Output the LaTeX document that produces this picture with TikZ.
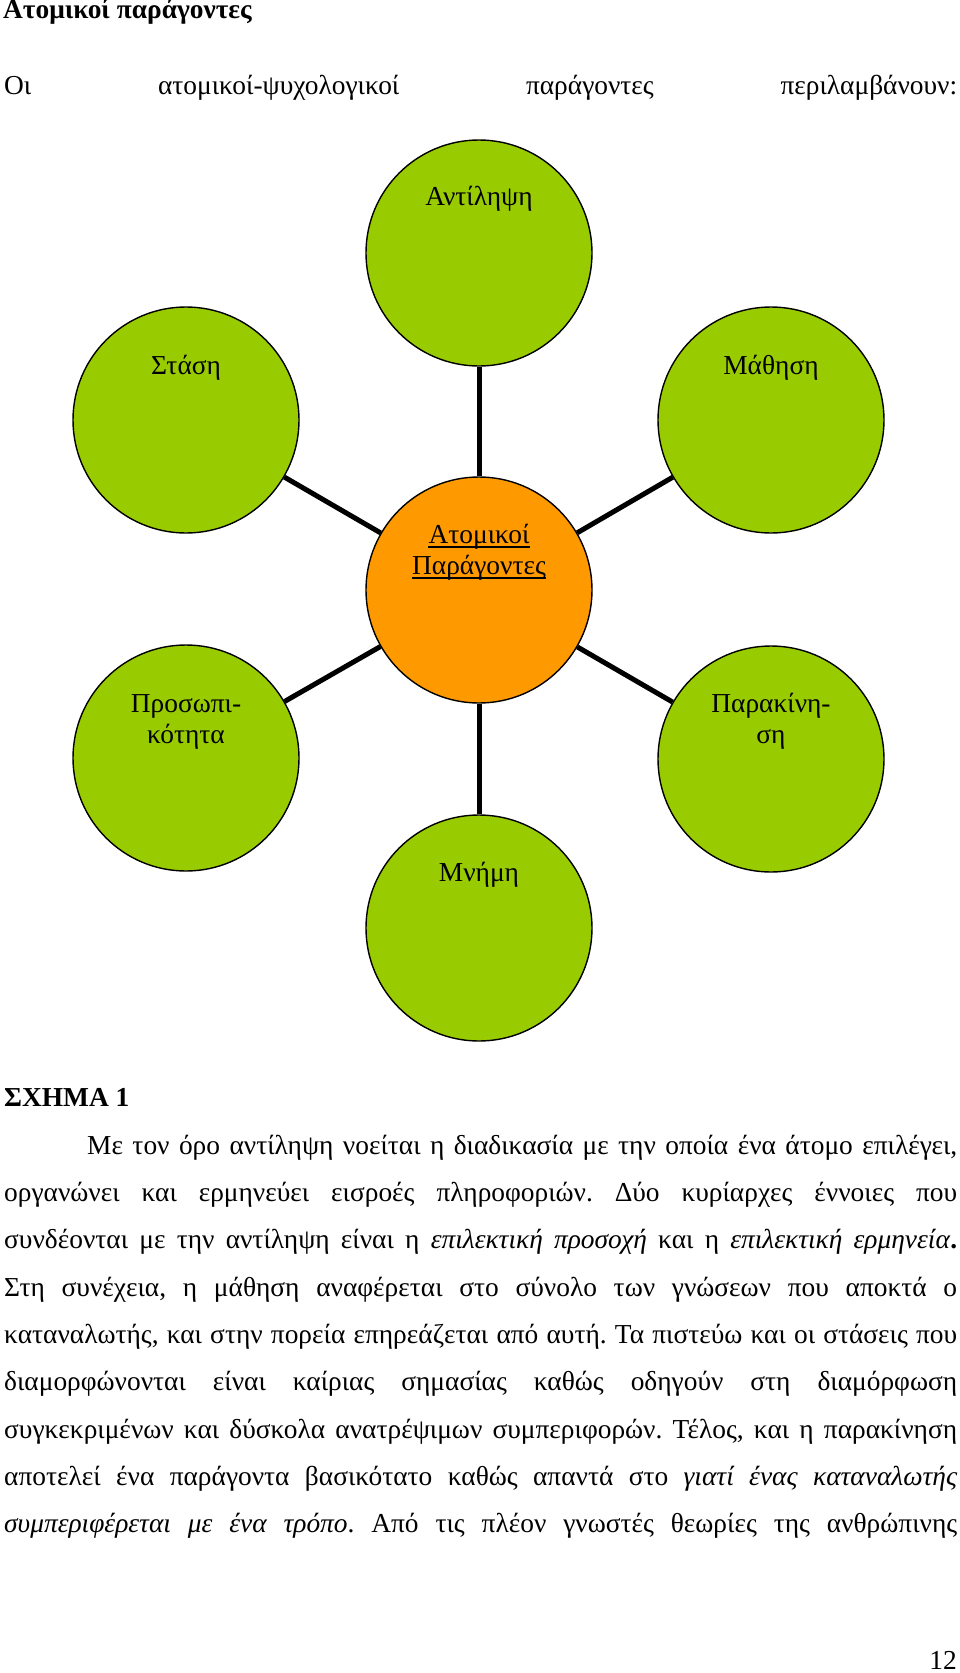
\documentclass[tikz,border=0pt]{standalone}
\usepackage{fontspec}
\setmainfont{Liberation Serif}
\definecolor{leaf}{RGB}{153,204,0}
\definecolor{amber}{RGB}{255,153,0}
\newcommand\bodyfs{\fontsize{27.4}{31.5}\selectfont}
\newcommand\jline[2]{\makebox[#1][s]{#2}}
\frenchspacing
\begin{document}
\begin{tikzpicture}[x=1pt,y=-1pt,
  bub/.style={circle, draw=black, line width=1.4pt, minimum size=226pt, inner sep=0pt, fill=leaf},
  hub/.style={bub, fill=amber},
  spoke/.style={line width=5pt, draw=black},
  lab/.style={anchor=base, inner sep=0pt, font=\bodyfs},
  body/.style={anchor=base west, inner sep=0pt, font=\bodyfs},
  uline/.style={line width=1.3pt, draw=black}]
\useasboundingbox (0,0) rectangle (960,1673);
\fill[white] (0,0) rectangle (960,1673);

% circles
\node[hub] (c) at (479,590) {};
\node[bub] (a) at (479,253) {};
\node[bub] (s) at (186,420) {};
\node[bub] (m) at (771,420) {};
\node[bub] (p) at (186,758) {};
\node[bub] (k) at (771,759) {};
\node[bub] (mn) at (479,928) {};

% spokes
\draw[spoke] (c) -- (a);
\draw[spoke] (c) -- (s);
\draw[spoke] (c) -- (m);
\draw[spoke] (c) -- (p);
\draw[spoke] (c) -- (k);
\draw[spoke] (c) -- (mn);

% circle labels
\node[lab] (at) at (479,205) {Αντίληψη};
\node[lab] (st) at (186,374) {Στάση};
\node[lab] (mt) at (771,374) {Μάθηση};
\node[lab] (ct1) at (479,543) {Ατομικοί};
\node[lab] (ct2) at (479,574) {Παράγοντες};
\draw[uline] ([yshift=-4pt]ct1.base west) -- ([yshift=-4pt]ct1.base east);
\draw[uline] ([yshift=-4pt]ct2.base west) -- ([yshift=-4pt]ct2.base east);
\node[lab] (pt1) at (186,712) {Προσωπι-};
\node[lab] (pt2) at (186,743) {κότητα};
\node[lab] (kt1) at (771,712) {Παρακίνη-};
\node[lab] (kt2) at (771,743) {ση};
\node[lab] (mnt) at (479,881) {Μνήμη};

% page text
\node[body] (t0) at (3,18.5) {\bfseries Ατομικοί παράγοντες};
\node[body] (t1) at (4,94) {\jline{953pt}{Οι ατομικοί-ψυχολογικοί παράγοντες περιλαμβάνουν:}};
\node[body] (t2) at (4,1106) {\bfseries ΣΧΗΜΑ 1};
\node[body] (b1) at (87,1154) {\jline{870pt}{Με τον όρο αντίληψη νοείται η διαδικασία με την οποία ένα άτομο επιλέγει,}};
\node[body] (b2) at (4,1201) {\jline{953pt}{οργανώνει και ερμηνεύει εισροές πληροφοριών. Δύο κυρίαρχες έννοιες που}};
\node[body] (b3) at (4,1248) {\jline{953pt}{συνδέονται με την αντίληψη είναι η \textit{επιλεκτική προσοχή} και η \textit{επιλεκτική ερμηνεία}\textbf{.}}};
\node[body] (b4) at (4,1296) {\jline{953pt}{Στη συνέχεια, η μάθηση αναφέρεται στο σύνολο των γνώσεων που αποκτά ο}};
\node[body] (b5) at (4,1343) {\jline{953pt}{καταναλωτής, και στην πορεία επηρεάζεται από αυτή. Τα πιστεύω και οι στάσεις που}};
\node[body] (b6) at (4,1390) {\jline{953pt}{διαμορφώνονται είναι καίριας σημασίας καθώς οδηγούν στη διαμόρφωση}};
\node[body] (b7) at (4,1438) {\jline{953pt}{συγκεκριμένων και δύσκολα ανατρέψιμων συμπεριφορών. Τέλος, και η παρακίνηση}};
\node[body] (b8) at (4,1485) {\jline{953pt}{αποτελεί ένα παράγοντα βασικότατο καθώς απαντά στο \textit{γιατί ένας καταναλωτής}}};
\node[body] (b9) at (4,1532) {\jline{953pt}{\textit{συμπεριφέρεται με ένα τρόπο}. Από τις πλέον γνωστές θεωρίες της ανθρώπινης}};
\node[lab, anchor=base east] (pg) at (957,1669) {12};
\end{tikzpicture}
\end{document}
